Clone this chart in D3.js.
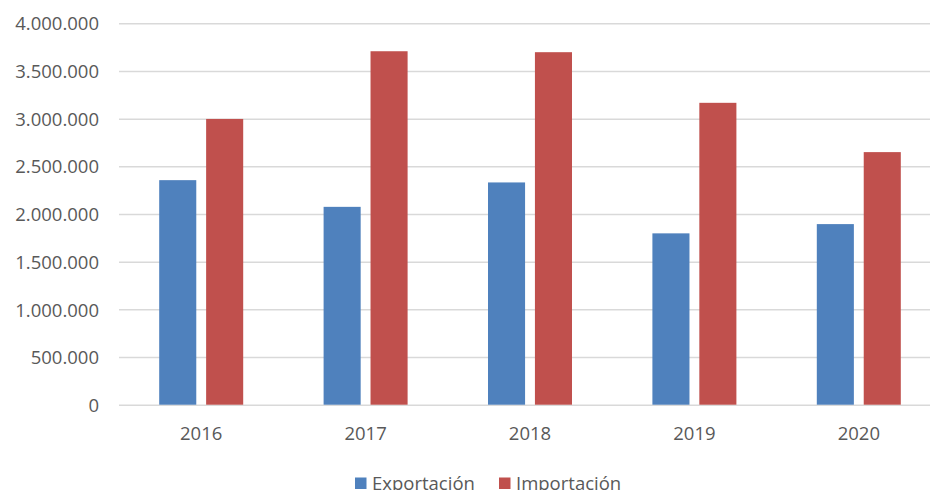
<!DOCTYPE html>
<html><head><meta charset="utf-8">
<script src="https://cdn.jsdelivr.net/npm/d3@7"></script>
<style>body{margin:0;background:#fff;overflow:hidden}svg{display:block}</style>
</head><body>
<svg id="c" width="930" height="490"></svg>
<script>
const years = ["2016","2017","2018","2019","2020"];
const exportacion = [2355000, 2075000, 2331000, 1797000, 1894000];
const importacion = [2997000, 3707000, 3697000, 3166000, 2649000];
const seriesNames = ["Exportación","Importación"];
const colors = ["#4f81bd","#c0504d"];
const yTicks = [0,500000,1000000,1500000,2000000,2500000,3000000,3500000,4000000];

(function(){
const svg = d3.select("#c");
const mLeft = 119, mRight = 941, mTop = 23.3, mBottom = 404.7;
const font = "Open Sans, sans-serif";
const txt = "#595959";
const fs = 18.5;

const x = d3.scaleBand().domain(years).range([mLeft, mRight]);
const xs = d3.scaleBand().domain(seriesNames).range([0, 84]).paddingInner(0.21);
const y = d3.scaleLinear().domain([0, 4000000]).range([mBottom, mTop]);
const fmt = v => d3.format(",")(v).replace(/,/g, ".");

const yAxis = d3.axisLeft(y).tickValues(yTicks).tickSize(mLeft - mRight).tickFormat(fmt).tickPadding(20);
const gy = svg.append("g").attr("transform", `translate(${mLeft},0)`).call(yAxis);
gy.select(".domain").remove();
gy.selectAll("line").attr("stroke", "#d9d9d9").attr("stroke-width", 1.5);
gy.selectAll("text").attr("fill", txt).attr("font-family", font).attr("font-size", fs).attr("dy", "0.36em");

const data = years.map((yr, i) => ({yr, vals: [exportacion[i], importacion[i]]}));
const g = svg.append("g");
data.forEach(d => {
  d.vals.forEach((v, j) => {
    const cx = x(d.yr) + x.bandwidth()/2 - 42;
    g.append("rect")
      .attr("x", cx + xs(seriesNames[j]))
      .attr("width", xs.bandwidth())
      .attr("y", y(v))
      .attr("height", y(0) - y(v))
      .attr("fill", colors[j]);
  });
});

const xAxis = d3.axisBottom(x).tickSize(0);
const gx = svg.append("g").attr("transform", `translate(0,${mBottom})`).call(xAxis);
gx.select(".domain").remove();
gx.selectAll("text").attr("fill", txt).attr("font-family", font).attr("font-size", fs)
  .attr("y", 35.5).attr("dy", 0);

const legX = [355, 499];
seriesNames.forEach((n, j) => {
  svg.append("rect").attr("x", legX[j]).attr("y", 477.5).attr("width", 11.5).attr("height", 11.5).attr("fill", colors[j]);
  svg.append("text").attr("x", legX[j] + 17).attr("y", 490).text(n)
    .attr("fill", txt).attr("font-family", font).attr("font-size", fs);
});
})();
</script>
</body></html>
